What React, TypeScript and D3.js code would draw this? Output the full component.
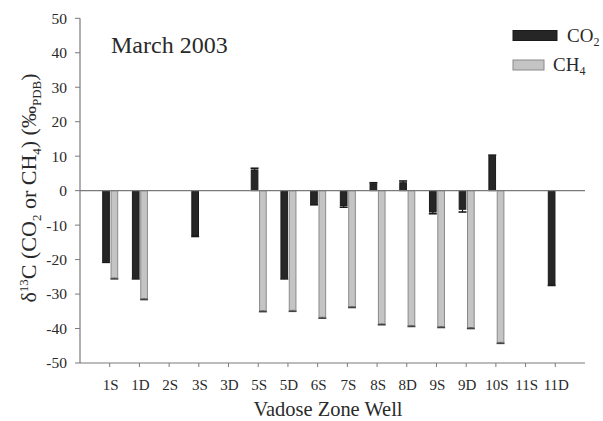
import React from "react";
import * as d3 from "d3";

const categories = ["1S","1D","2S","3S","3D","5S","5D","6S","7S","8S","8D","9S","9D","10S","11S","11D"];
const co2Values: (number|null)[] = [-20.5, -25.3, null, -13.0, null, 6.0, -25.3, -3.8, -4.3, 2.0, 2.3, -6.2, -5.4, 10.0, null, -27.2];
const co2Errors: (number|null)[] = [0.3, 0.3, null, 0.3, null, 0.5, 0.3, 0.3, 0.5, 0.3, 0.5, 0.5, 0.8, 0.3, null, 0.3];
const ch4Values: (number|null)[] = [-25.3, -31.3, null, null, null, -34.8, -34.7, -36.7, -33.6, -38.6, -39.1, -39.4, -39.7, -44.0, null, null];
const ch4Errors: (number|null)[] = [0.3, 0.3, null, null, null, 0.3, 0.3, 0.3, 0.3, 0.3, 0.3, 0.3, 0.3, 0.3, null, null];
const yTicks = [-50, -40, -30, -20, -10, 0, 10, 20, 30, 40, 50];
const seriesNames = ["CO2", "CH4"];

const W = 603, H = 421;
const left = 80, right = 585, top = 18.3, bottom = 363;
const FONT = "'Liberation Serif', 'Times New Roman', serif";
const AXIS = "#7a7a7a";
const TXT = "#2a2a2a";

export default function App() {
  const x = d3.scalePoint<string>().domain(categories).range([left, right]).padding(1);
  const y = d3.scaleLinear().domain([-50, 50]).range([bottom, top]);
  const x1 = d3.scaleBand<string>().domain(seriesNames).range([-7, 8]).paddingInner(0.2);
  const bw = x1.bandwidth();

  const series = [
    { name: "CO2", values: co2Values, errors: co2Errors, fill: "#262626", stroke: "#1a1a1a", cap: "#1a1a1a" },
    { name: "CH4", values: ch4Values, errors: ch4Errors, fill: "#c4c4c4", stroke: "#8a8a8a", cap: "#444" },
  ];

  return (
    <svg width={W} height={H} style={{ position: "absolute", left: 0, top: 0, background: "#fff" }} fontFamily={FONT}>
      <rect x={0} y={0} width={W} height={H} fill="#fff" />
      {series.map((s) =>
        categories.map((c, i) => {
          const v = s.values[i];
          if (v === null) return null;
          const cx = (x(c) as number) + (x1(s.name) as number);
          const y0 = y(0), yv = y(v);
          const err = s.errors[i] ?? 0;
          const ye = y(v + Math.sign(v) * err);
          return (
            <g key={s.name + c}>
              <rect x={cx} y={Math.min(y0, yv)} width={bw} height={Math.abs(yv - y0)} fill={s.fill} stroke={s.stroke} strokeWidth={1} />
              <line x1={cx + bw / 2} x2={cx + bw / 2} y1={yv} y2={ye} stroke={s.cap} strokeWidth={1.2} />
              <line x1={cx + bw / 2 - 4} x2={cx + bw / 2 + 4} y1={ye} y2={ye} stroke={s.cap} strokeWidth={1.6} />
            </g>
          );
        })
      )}
      <line x1={left} x2={right} y1={y(0)} y2={y(0)} stroke={AXIS} strokeWidth={1.2} />
      <line x1={left} x2={left} y1={top} y2={bottom} stroke={AXIS} strokeWidth={1.2} />
      {yTicks.map((t) => (
        <g key={t}>
          <line x1={left - 5} x2={left} y1={y(t)} y2={y(t)} stroke={AXIS} strokeWidth={1} />
          <text x={left - 13} y={y(t)} dy="0.35em" textAnchor="end" fontSize={15.5} fill={TXT}>{t}</text>
        </g>
      ))}
      <line x1={left} x2={right} y1={bottom} y2={bottom} stroke={AXIS} strokeWidth={1.2} />
      {categories.map((c) => (
        <g key={c}>
          <line x1={x(c)} x2={x(c)} y1={bottom} y2={bottom + 4} stroke={AXIS} strokeWidth={1} />
          <text x={(x(c) as number) + 1} y={390} textAnchor="middle" fontSize={15} fill={TXT}>{c}</text>
        </g>
      ))}
      <text transform="translate(328,416) scale(0.93,1)" textAnchor="middle" fontSize={22} fill={TXT}>Vadose Zone Well</text>
      <text transform={`translate(36,188) rotate(-90)`} textAnchor="middle" fontSize={22} fill={TXT}>
        δ<tspan fontSize={13} dy={-8}>13</tspan><tspan dy={8}>C (CO</tspan><tspan fontSize={13} dy={5}>2</tspan><tspan dy={-5}> or CH</tspan><tspan fontSize={13} dy={5}>4</tspan><tspan dy={-5}>) (‰</tspan><tspan fontSize={13} dy={5}>PDB</tspan><tspan dy={-5}>)</tspan>
      </text>
      <text x={111} y={53} fontSize={24} fill={TXT}>March 2003</text>
      <rect x={513} y={30.5} width={44} height={10} fill="#262626" stroke="#1a1a1a" />
      <text x={567} y={42} fontSize={19} fill={TXT}>CO<tspan fontSize={12} dy={4}>2</tspan></text>
      <rect x={513} y={60} width={31} height={10} fill="#c4c4c4" stroke="#8a8a8a" />
      <text x={553} y={71} fontSize={19} fill={TXT}>CH<tspan fontSize={12} dy={4}>4</tspan></text>
    </svg>
  );
}
